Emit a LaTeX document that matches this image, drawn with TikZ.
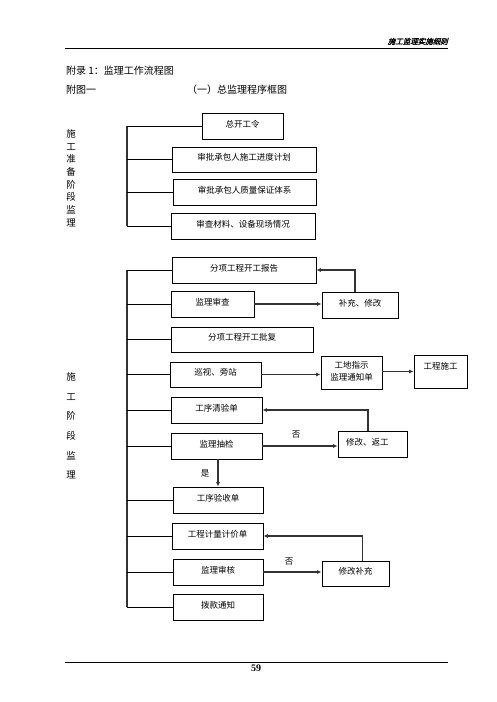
\documentclass[tikz,border=0pt]{standalone}
\usepackage{fontspec}
\setmainfont{Liberation Serif}
\newfontfamily\cjk{Noto Sans CJK SC}
\newfontfamily\cjkit[FakeSlant=0.25,FakeBold=1.5]{Noto Sans CJK SC}
\usetikzlibrary{arrows.meta,calc}
\begin{document}
\begin{tikzpicture}[x=1pt,y=-1pt,
  box/.style={draw=black,line width=0.8pt,inner sep=0pt,font=\cjk\fontsize{8.5}{10}\selectfont,align=center,text height=7pt,text depth=4.5pt},
  branch/.style={draw=black,line width=0.9pt},
  trunk/.style={draw=black!80,line width=1.4pt},
  flow/.style={draw=black!80,line width=1.2pt,-{Latex[length=4.5pt,width=4pt]}},
  lbl/.style={font=\cjk\fontsize{8.5}{10}\selectfont,inner sep=0pt}]
\useasboundingbox (0,0) rectangle (496,702);
% header
\node[anchor=south east,inner sep=0pt,font=\cjkit\fontsize{7.5}{9}\selectfont] (hdr) at (448,45) {施工监理实施细则};
\coordinate (hl) at (65,48); \coordinate (hr) at (448,48);
\draw[line width=0.9pt] (hl) -- (hr);
\node[anchor=west,inner sep=0pt,font=\cjk\fontsize{10}{12}\selectfont] (t1) at (66,71) {附录 1：监理工作流程图};
\node[anchor=west,inner sep=0pt,font=\cjk\fontsize{10}{12}\selectfont] (t2) at (66,90) {附图一};
\node[anchor=west,inner sep=0pt,font=\cjk\fontsize{10}{12}\selectfont] (t3) at (187,90) {（一）总监理程序框图};
% footer
\coordinate (fl) at (65,662); \coordinate (fr) at (448,662);
\draw[line width=0.9pt] (fl) -- (fr);
\node[inner sep=0pt,font=\bfseries\fontsize{10}{12}\selectfont] (pg) at (256,668) {59};
% vertical labels
\node[inner sep=0pt,align=center,font=\cjk\fontsize{9.5}{12.7}\selectfont] (v1) at (71,178) {施\\工\\准\\备\\阶\\段\\监\\理};
\node[inner sep=0pt,align=center,font=\cjk\fontsize{9.5}{19.6}\selectfont] (v2) at (71,426) {施\\工\\阶\\段\\监\\理};
% section 1 boxes
\node[box,minimum width=81pt,minimum height=26pt] (b1) at (242.5,126) {总开工令};
\node[box,minimum width=144pt,minimum height=25pt] (b2) at (244,159.5) {审批承包人施工进度计划};
\node[box,minimum width=143pt,minimum height=26pt] (b3) at (244.5,192) {审批承包人质量保证体系};
\node[box,minimum width=144pt,minimum height=26pt] (b4) at (243,226) {审查材料、设备现场情况};
\coordinate (tA) at (127,0);
\draw[trunk] (b1.west -| tA) -- (b4.west -| tA);
\foreach \n in {b1,b2,b3,b4} \draw[branch] (\n.west -| tA) -- (\n.west);
% section 2 boxes
\node[box,minimum width=144pt,minimum height=26pt] (c1) at (244,270) {分项工程开工报告};
\node[box,minimum width=83pt,minimum height=26pt] (c2) at (212.5,304) {监理审查};
\node[box,minimum width=76pt,minimum height=26pt] (c3) at (360,305) {补充、修改};
\node[box,minimum width=142pt,minimum height=25pt] (c4) at (242,339.5) {分项工程开工批复};
\node[box,minimum width=91pt,minimum height=25pt] (c5) at (215.5,374.5) {巡视、旁站};
\node[box,minimum width=61pt,minimum height=33pt,font=\cjk\fontsize{8.5}{12}\selectfont,text height=19pt,text depth=4pt] (c6) at (351.5,372.5) {工地指示\\监理通知单};
\node[box,minimum width=53pt,minimum height=33pt,text depth=12pt] (c7) at (440.5,371.5) {工程施工};
\node[box,minimum width=91pt,minimum height=26pt] (d1) at (216.5,410) {工序清验单};
\node[box,minimum width=91pt,minimum height=26pt] (d2) at (216.5,446) {监理抽检};
\node[box,minimum width=69pt,minimum height=26pt,text width=69pt,align=left] (d3) at (372.5,444) {\hspace*{8pt}修改、返工};
\node[box,minimum width=90pt,minimum height=26pt] (d4) at (218,500) {工序验收单};
\node[box,minimum width=91pt,minimum height=26pt] (e1) at (217.5,536) {工程计量计价单};
\node[box,minimum width=90pt,minimum height=26pt] (e2) at (218,572) {监理审核};
\node[box,minimum width=67pt,minimum height=25pt] (e3) at (355.5,573.5) {修改补充};
\node[box,minimum width=90pt,minimum height=26pt] (e4) at (218,607) {拨款通知};
\draw[trunk] (c1.west -| tA) -- (e4.west -| tA);
\foreach \n in {c1,c2,c4,c5,d1,d2,d4,e1,e2,e4} \draw[branch] (\n.west -| tA) -- (\n.west);
% flows
\draw[flow] (c2.east) -- (c2.east -| c3.west);
\coordinate (c3t) at ($(c3.north)+(-5,0)$);
\draw[flow] (c3t) |- (c1.east);
\draw[flow] (c5.east) -- (c5.east -| c6.west);
\draw[flow] (c6.east |- c7.west) -- (c7.west);
\draw[flow] (d2.east) -- (d2.east -| d3.west);
\node[lbl] (no1) at (296,435) {否};
\coordinate (d3t) at ($(d3.north)+(-4.5,0)$);
\draw[flow] (d3t) |- (d1.east);
\coordinate (d2b) at ($(d2.south)+(1.5,0)$);
\draw[flow] (d2b) -- (d2b |- d4.north);
\node[lbl] (yes1) at (205,473) {是};
\draw[flow] (e2.east) -- (e2.east -| e3.west);
\node[lbl] (no2) at (289,562) {否};
\coordinate (e3t) at ($(e3.north)+(7,0)$);
\draw[flow] (e3t) |- (e1.east);
\end{tikzpicture}
\end{document}
